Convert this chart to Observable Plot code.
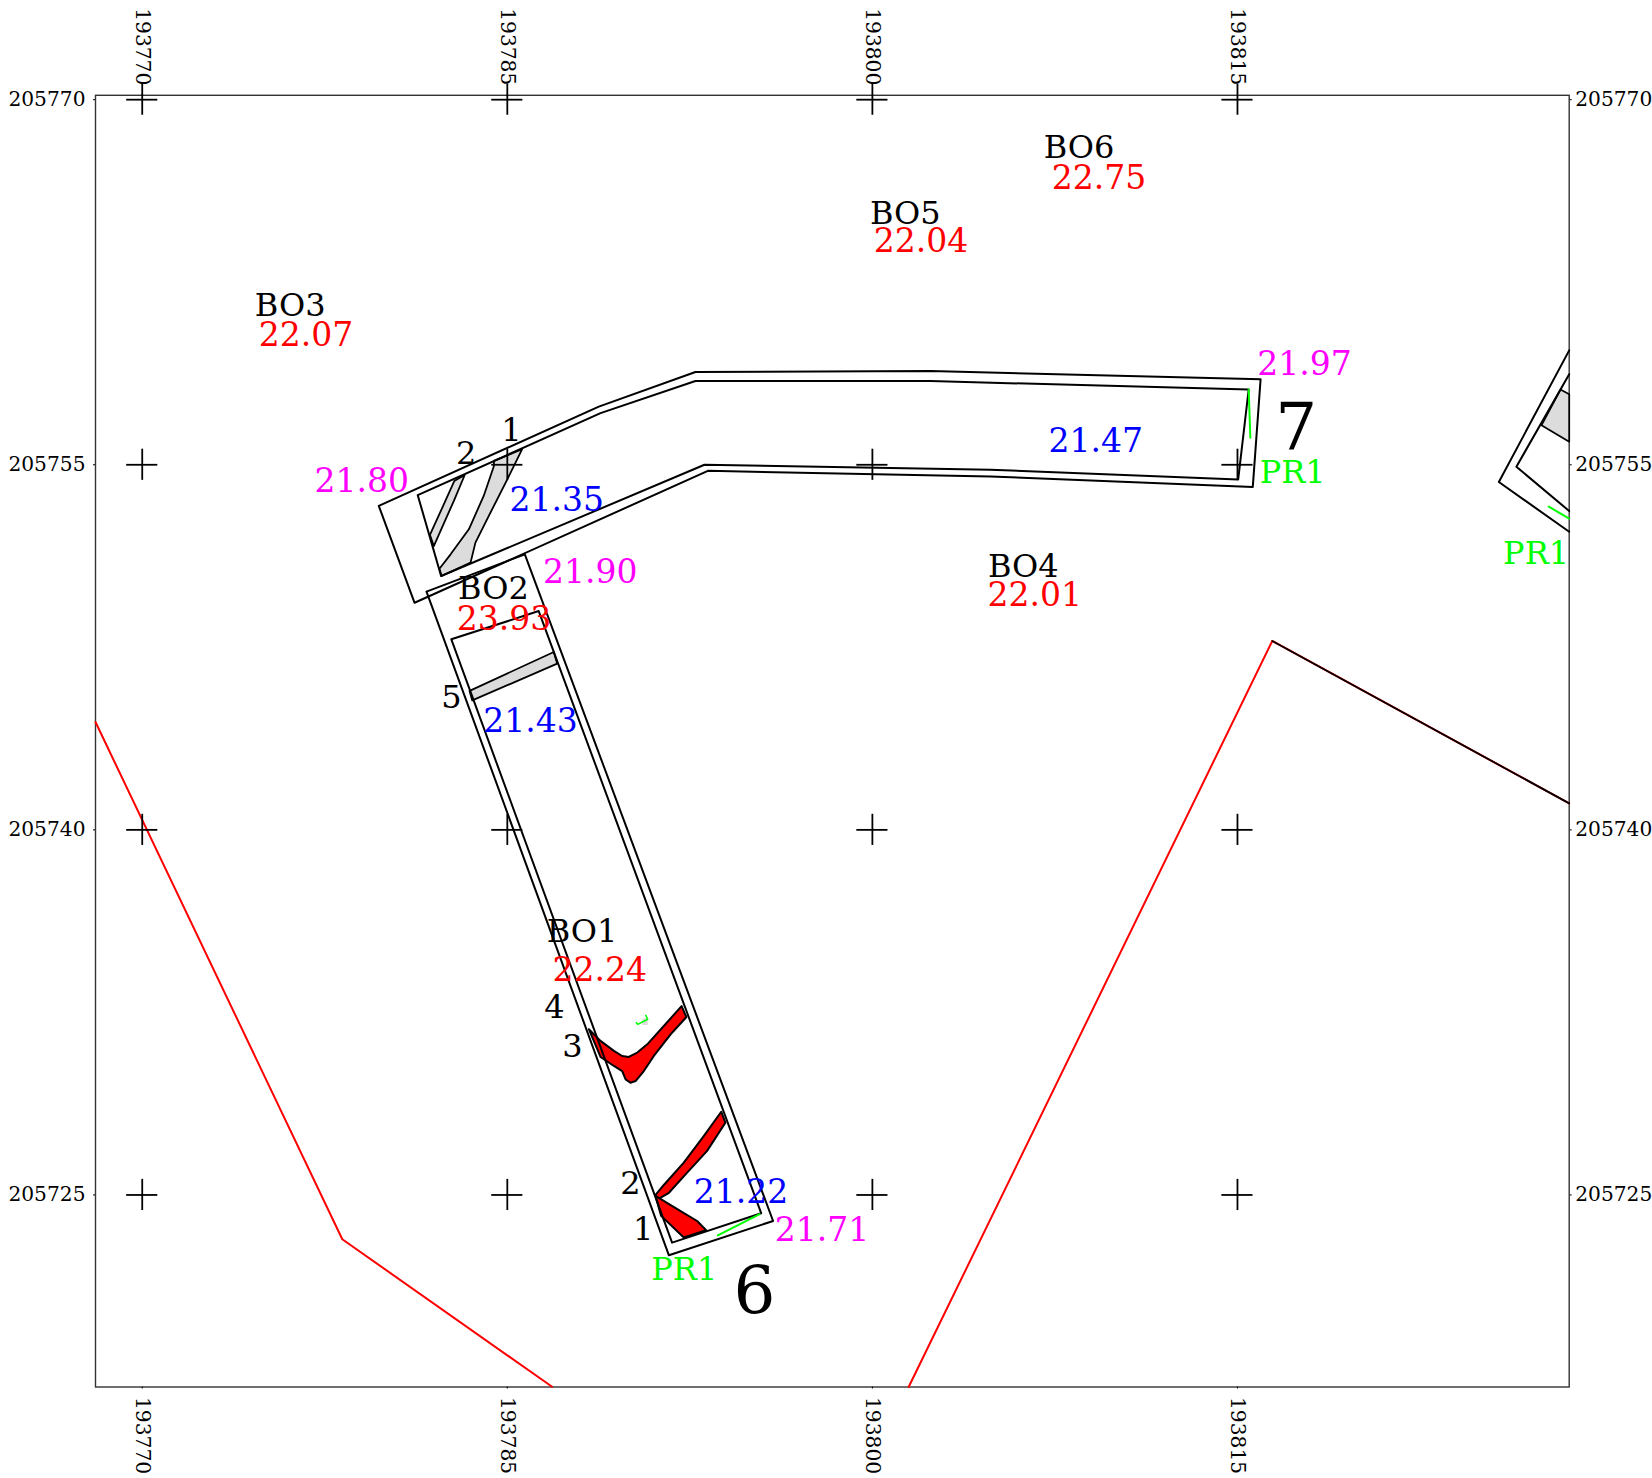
<!DOCTYPE html>
<html><head><meta charset="utf-8">
<script src="https://cdn.jsdelivr.net/npm/d3@7"></script>
<script src="https://cdn.jsdelivr.net/npm/@observablehq/plot@0.6"></script>
<style>html,body{margin:0;padding:0;background:#fff}svg{display:block;max-width:none!important}</style>
</head><body><div id="chart"></div>
<script>
const eastTicks = [193770, 193785, 193800, 193815];
const northTicks = [205725, 205740, 205755, 205770];
const eastDomain = [193768.08, 193828.63];
const northDomain = [205717.11, 205770.18];
const crossArm = 0.64;

const trench7Outer = [[193779.72,205753.31],[193788.76,205757.39],[193792.73,205758.81],[193802.39,205758.85],[193815.95,205758.51],[193815.63,205754.09],[193804.85,205754.52],[193793.24,205754.75],[193781.19,205749.33],[193779.72,205753.31]];
const trench7Inner = [[193781.32,205753.75],[193788.83,205757.12],[193792.73,205758.44],[193802.39,205758.44],[193815.46,205758.09],[193815.03,205754.40],[193804.85,205754.80],[193793.10,205755.00],[193782.28,205750.43],[193781.32,205753.75]];
const trench6Outer = [[193781.68,205749.79],[193785.72,205751.32],[193795.92,205723.93],[193791.64,205722.52],[193781.68,205749.79]];
const trench6Inner = [[193782.70,205747.83],[193786.29,205748.99],[193795.43,205724.25],[193791.77,205723.04],[193782.70,205747.83]];
const trench8Outer = [[193828.63,205759.70],[193825.74,205754.29],[193828.63,205752.25]];
const trench8Inner = [[193828.63,205758.72],[193826.46,205754.92],[193828.63,205753.10]];

const grayLarge = [[193784.45,205755.16],[193785.61,205755.64],[193785.00,205754.40],[193784.24,205752.90],[193783.69,205751.80],[193783.49,205750.98],[193782.30,205750.43],[193782.21,205750.73],[193782.67,205751.32],[193783.42,205752.35],[193784.03,205753.72],[193784.45,205754.95],[193784.45,205755.16]];
const graySmall = [[193782.82,205754.33],[193783.25,205754.58],[193782.80,205753.51],[193781.98,205751.66],[193781.82,205752.12],[193782.33,205753.24],[193782.82,205754.33]];
const grayBand6 = [[193783.45,205745.71],[193786.91,205747.31],[193787.05,205746.83],[193783.56,205745.32],[193783.45,205745.71]];
const grayBand8 = [[193828.27,205758.09],[193828.63,205757.90],[193828.63,205755.95],[193827.49,205756.62],[193828.27,205758.09]];
const grayTiny = [[193790.54,205732.22],[193790.77,205732.31],[193790.77,205731.98],[193790.54,205731.98],[193790.54,205732.22]];

const redBand3 = [[193788.35,205731.81],[193788.83,205731.33],[193789.38,205730.92],[193789.72,205730.71],[193789.99,205730.67],[193790.34,205730.85],[193790.75,205731.19],[193791.43,205731.94],[193792.16,205732.76],[193792.36,205732.31],[193791.71,205731.60],[193791.02,205730.71],[193790.61,205730.09],[193790.27,205729.68],[193790.06,205729.61],[193789.86,205729.75],[193789.72,205730.09],[193789.38,205730.30],[193788.83,205730.67],[193788.35,205731.81]];
const redBand2 = [[193791.09,205725.00],[193791.43,205725.41],[193792.25,205726.33],[193793.07,205727.42],[193793.79,205728.42],[193793.96,205727.97],[193793.21,205726.81],[193792.39,205725.92],[193791.64,205725.09],[193791.18,205724.82],[193791.09,205725.00]];
const redBand1 = [[193791.09,205724.96],[193792.12,205724.34],[193792.80,205723.93],[193793.17,205723.55],[193792.25,205723.25],[193791.32,205724.14],[193791.09,205724.96]];

const greenTick6 = [[193793.65,205723.34],[193795.37,205724.21]];
const greenTick7 = [[193815.46,205758.09],[193815.53,205756.11]];
const greenTick8 = [[193827.79,205753.28],[193828.63,205752.79]];
const greenTiny = [[193790.30,205732.08],[193790.36,205732.01],[193790.77,205732.22],[193790.69,205732.38]];

const redBoundaryLeft = [[193768.08,205744.43],[193778.22,205723.18],[193786.84,205717.12]];
const redBoundaryRight = [[193801.49,205717.11],[193816.43,205747.76],[193828.63,205741.09]];
const blackBoundary = [[193816.43,205747.76],[193828.63,205741.09]];

const boreholeNames = [["BO6",193808.49,205768.03],["BO5",193801.35,205765.35],["BO3",193776.08,205761.54],["BO2",193784.43,205749.95],["BO4",193806.20,205750.85],["BO1",193788.07,205735.84]];
const sectionNumbers = [["1",193785.17,205756.44],["2",193783.31,205755.48],["5",193782.70,205745.45],["4",193786.94,205732.72],["3",193787.68,205731.12],["2",193790.06,205725.50],["1",193790.58,205723.59]];
const trenchNumbers = [["7",193817.42,205756.48],["6",193795.16,205721.04]];
const redValues = [["22.75",193809.31,205766.78],["22.04",193802.00,205764.18],["22.07",193776.73,205760.33],["23.93",193784.86,205748.69],["22.01",193806.67,205749.64],["22.24",193788.80,205734.24]];
const blueValues = [["21.47",193809.18,205756.00],["21.35",193787.03,205753.54],["21.43",193785.95,205744.49],["21.22",193794.60,205725.11]];
const magentaValues = [["21.97",193817.75,205759.16],["21.80",193779.02,205754.32],["21.90",193788.41,205750.60],["21.71",193797.93,205723.55]];
const profileLabels = [["PR1",193817.27,205754.71],["PR1",193792.27,205721.95],["PR1",193827.27,205751.37]];

const serif = "'DejaVu Serif', serif";
const shape = (pts, o) => Plot.line(pts, {x: d => d[0], y: d => d[1], curve: "linear", strokeLinejoin: "round", ...o});
const labels = (rows, fill, fontSize) => Plot.text(rows, {x: d => d[1], y: d => d[2], text: d => d[0], fill, fontSize, fontFamily: serif, textAnchor: "middle", lineAnchor: "middle", dy: 0.6});
const crosses = eastTicks.flatMap(e => northTicks.map(n => ({e, n})));
const axisStyle = {tickSize: 2, tickFormat: "d", fontSize: 20.2, fontFamily: serif, fill: "#000", label: null};

const chart = Plot.plot({
  width: 1652, height: 1478,
  marginLeft: 95, marginRight: 83.3, marginTop: 94.8, marginBottom: 91.5,
  x: {domain: eastDomain, ticks: eastTicks, label: null},
  y: {domain: northDomain, ticks: northTicks, label: null},
  style: {background: "#fff", fontFamily: serif},
  marks: [
    Plot.frame({stroke: "#333", strokeWidth: 1.4}),
    Plot.axisX(eastTicks, {anchor: "top", tickRotate: 90, tickPadding: 8, ...axisStyle}),
    Plot.axisX(eastTicks, {anchor: "bottom", tickRotate: 90, tickPadding: 8, ...axisStyle}),
    Plot.axisY(northTicks, {anchor: "left", tickPadding: 8, ...axisStyle}),
    Plot.axisY(northTicks, {anchor: "right", tickPadding: 4, ...axisStyle}),

    shape(redBoundaryLeft, {stroke: "#f00", strokeWidth: 2}),
    shape(redBoundaryRight, {stroke: "#f00", strokeWidth: 2}),
    shape(blackBoundary, {stroke: "#000", strokeWidth: 1.8}),

    shape(grayLarge, {fill: "#dcdcdc", stroke: "#000", strokeWidth: 1.8}),
    shape(graySmall, {fill: "#dcdcdc", stroke: "#000", strokeWidth: 1.8}),
    shape(grayBand6, {fill: "#dcdcdc", stroke: "#000", strokeWidth: 1.8}),
    shape(grayBand8, {fill: "#dcdcdc", stroke: "#000", strokeWidth: 1.8}),
    shape(grayTiny, {fill: "#dcdcdc", stroke: "none"}),

    Plot.ruleX(crosses, {x: "e", y1: d => d.n - crossArm, y2: d => d.n + crossArm, stroke: "#000", strokeWidth: 1.8}),
    Plot.ruleY(crosses, {y: "n", x1: d => d.e - crossArm, x2: d => d.e + crossArm, stroke: "#000", strokeWidth: 1.8}),

    shape(redBand3, {fill: "#f00", stroke: "#000", strokeWidth: 2}),
    shape(redBand2, {fill: "#f00", stroke: "#000", strokeWidth: 2}),
    shape(redBand1, {fill: "#f00", stroke: "#000", strokeWidth: 2}),

    shape(trench7Outer, {stroke: "#000", strokeWidth: 2}),
    shape(trench7Inner, {stroke: "#000", strokeWidth: 2}),
    shape(trench6Outer, {stroke: "#000", strokeWidth: 2}),
    shape(trench6Inner, {stroke: "#000", strokeWidth: 2}),
    shape(trench8Outer, {stroke: "#000", strokeWidth: 2}),
    shape(trench8Inner, {stroke: "#000", strokeWidth: 2}),

    shape(greenTick6, {stroke: "#0f0", strokeWidth: 2}),
    shape(greenTick7, {stroke: "#0f0", strokeWidth: 2}),
    shape(greenTick8, {stroke: "#0f0", strokeWidth: 2}),
    shape(greenTiny, {stroke: "#0f0", strokeWidth: 1.5}),

    labels(boreholeNames, "#000", 32),
    labels(sectionNumbers, "#000", 32),
    labels(trenchNumbers, "#000", 66),
    labels(redValues, "#f00", 33),
    labels(blueValues, "#00f", 33),
    labels(magentaValues, "#f0f", 33),
    labels(profileLabels, "#0f0", 32)
  ]
});
document.getElementById("chart").append(chart);
</script>
</body></html>
